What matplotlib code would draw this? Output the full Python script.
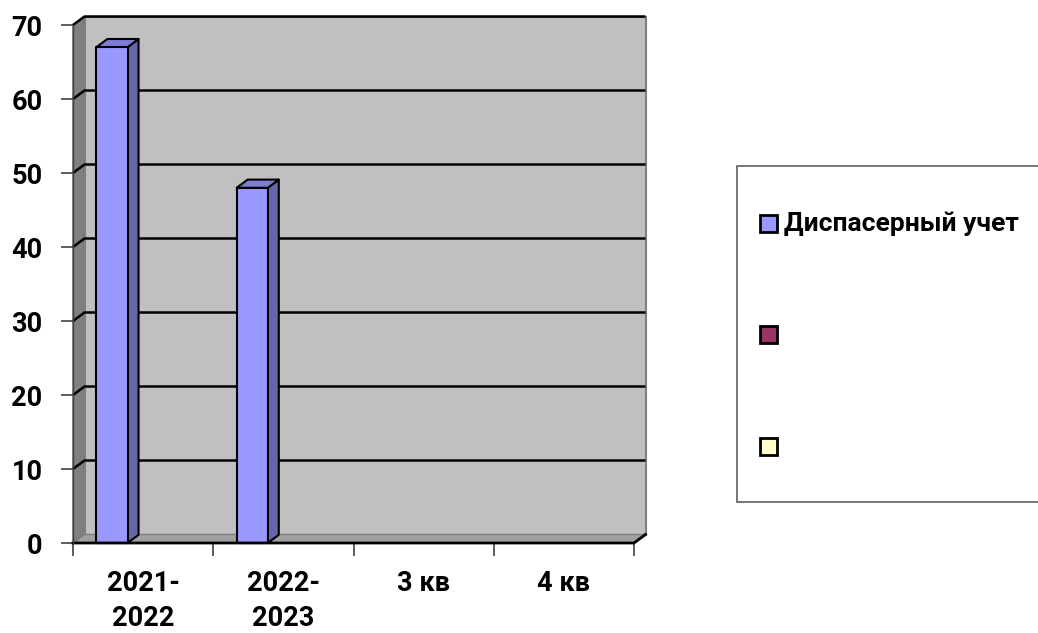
import matplotlib
matplotlib.use("Agg")
import matplotlib.pyplot as plt
from matplotlib.patches import Polygon, Rectangle
import numpy as np

plt.rcParams['font.family'] = ['Roboto', 'DejaVu Sans']

categories = ["2021-\n2022", "2022-\n2023", "3 кв", "4 кв"]
series_names = ["Диспасерный учет", "", ""]
series_values = [
    [67, 48, np.nan, np.nan],
    [np.nan, np.nan, np.nan, np.nan],
    [np.nan, np.nan, np.nan, np.nan],
]
series_front = ["#9999FF", "#993366", "#FFFFCC"]
series_side = ["#6666AA", "#662244", "#BBBB99"]
series_top = ["#7D7DD6", "#7A2952", "#DDDDB0"]
yticks = [0, 10, 20, 30, 40, 50, 60, 70]

W, H = 1038, 633
fig = plt.figure(figsize=(W / 100, H / 100), dpi=100)
# axes pixel box: x 73..634, y 25..543
x0, x1, yt, yb = 73, 634, 25, 543
ax = fig.add_axes([x0 / W, 1 - yb / H, (x1 - x0) / W, (yb - yt) / H])
ncat = len(categories)
ymax = 70
ax.set_xlim(0, ncat)
ax.set_ylim(0, ymax)
for s in ax.spines.values():
    s.set_visible(False)
ax.patch.set_visible(False)

px_x = (x1 - x0) / ncat
px_y = (yb - yt) / ymax
dx = 11.5 / px_x
dy = 8.5 / px_y

# walls
ax.add_patch(Polygon([(0, 0), (dx, dy), (dx, ymax + dy), (0, ymax)],
                     closed=True, fc="#808080", ec="#606060", lw=1, clip_on=False, zorder=1))
ax.add_patch(Polygon([(dx, dy), (ncat + dx, dy), (ncat + dx, ymax + dy), (dx, ymax + dy)],
                     closed=True, fc="#C0C0C0", ec="#808080", lw=1.5, clip_on=False, zorder=1))
# floor
ax.add_patch(Polygon([(0, 0), (ncat, 0), (ncat + dx, dy), (dx, dy)],
                     closed=True, fc="#A0A0A0", ec="#808080", lw=1, clip_on=False, zorder=2))
# gridlines
for v in yticks[1:]:
    ax.plot([0, dx, ncat + dx], [v, v + dy, v + dy], color="black", lw=1.8,
            clip_on=False, zorder=3, solid_capstyle="butt")

# bars
nser = len(series_values)
gap = 1.5
bw = 1.0 / (nser + gap)
bdx = 11 / px_x
bdy = 8.2 / px_y
for si, vals in enumerate(series_values):
    for ci, v in enumerate(vals):
        if v is None or np.isnan(v):
            continue
        left = ci + bw * gap / 2 + si * bw
        right = left + bw
        ax.add_patch(Polygon([(right, 0), (right + bdx, bdy), (right + bdx, v + bdy), (right, v)],
                             closed=True, fc=series_side[si], ec="black", lw=1.5,
                             clip_on=False, zorder=5, joinstyle="round"))
        ax.add_patch(Polygon([(left, v), (right, v), (right + bdx, v + bdy), (left + bdx, v + bdy)],
                             closed=True, fc=series_top[si], ec="black", lw=1.5,
                             clip_on=False, zorder=5, joinstyle="round"))
        ax.add_patch(Rectangle((left, 0), bw, v, fc=series_front[si], ec="black", lw=1.5,
                               clip_on=False, zorder=6, joinstyle="round"))

# front floor edge
ax.plot([0, ncat, ncat + dx], [0, 0, dy], color="black", lw=2, clip_on=False, zorder=7)
ax.plot([0, 0], [0, ymax], color="#404040", lw=1, clip_on=False, zorder=7)

# ticks
ax.set_yticks(yticks)
ax.set_yticklabels([str(t) for t in yticks], fontsize=19.5, fontweight="bold")
ax.tick_params(axis="y", direction="out", length=9, width=1.2, color="#404040", pad=13)
ax.set_xticks(np.arange(ncat + 1))
ax.set_xticklabels([""] * (ncat + 1))
ax.tick_params(axis="x", direction="out", length=9, width=1.2, color="#404040")
for ci, c in enumerate(categories):
    ax.text(ci + 0.5, -3.6, c, ha="center", va="top", fontsize=19.5, fontweight="bold",
            linespacing=1.42, clip_on=False)

# legend
def fx(x):
    return x / W

def fy(y):
    return 1 - y / H

fig.patches.append(Rectangle((fx(737), fy(502)), fx(1100) - fx(737), fy(166) - fy(502),
                             transform=fig.transFigure, fc="white", ec="#606060", lw=1.2))
leg_y = [223.5, 334.5, 446]
for si, name in enumerate(series_names):
    yc = leg_y[si]
    fig.patches.append(Rectangle((fx(760), fy(yc + 8.5)), 17 / W, 17 / H,
                                 transform=fig.transFigure, fc=series_front[si], ec="black", lw=2))
    if name:
        fig.text(fx(784), fy(yc), name, ha="left", va="center", fontsize=19,
                 fontweight="bold")

fig.savefig("out.png", dpi=100)
